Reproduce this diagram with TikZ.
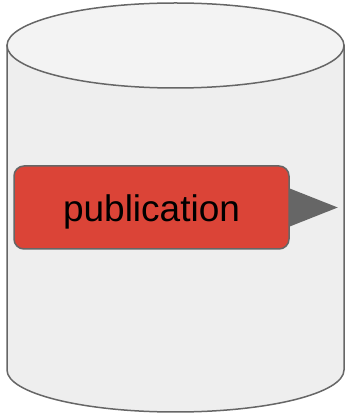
\documentclass[tikz,border=0pt]{standalone}
\usepackage{fontspec}
\setmainfont{Liberation Sans}
\usetikzlibrary{positioning}
\definecolor{edgegray}{HTML}{666666}
\definecolor{bodygray}{HTML}{EEEEEE}
\definecolor{topgray}{HTML}{F3F3F3}
\definecolor{boxred}{HTML}{DB4437}
\begin{document}
\begin{tikzpicture}[x=1pt,y=1pt,
  pubbox/.style={draw=edgegray,fill=boxred,line width=1.5pt,rounded corners=10pt,
    minimum width=275pt,minimum height=83pt,inner sep=0pt,
    text height=29pt,text depth=0pt,
    font=\fontsize{37}{42}\selectfont}]
\useasboundingbox (0,0) rectangle (345,415);
\draw[edgegray,fill=bodygray,line width=1.5pt] (7,369.5) -- (7,45)
  arc[start angle=180,end angle=360,x radius=168.5,y radius=42] -- (344,369.5) -- cycle;
\draw[edgegray,fill=topgray,line width=1.5pt] (175.5,369.5) ellipse [x radius=168.5,y radius=42.5];
\node[pubbox] (pub) at (151.5,207.5) {publication};
\coordinate (tip) at ([xshift=48pt]pub.east);
\fill[edgegray] ([yshift=19pt]pub.east) -- (tip) -- ([yshift=-19pt]pub.east) -- cycle;
\end{tikzpicture}
\end{document}
